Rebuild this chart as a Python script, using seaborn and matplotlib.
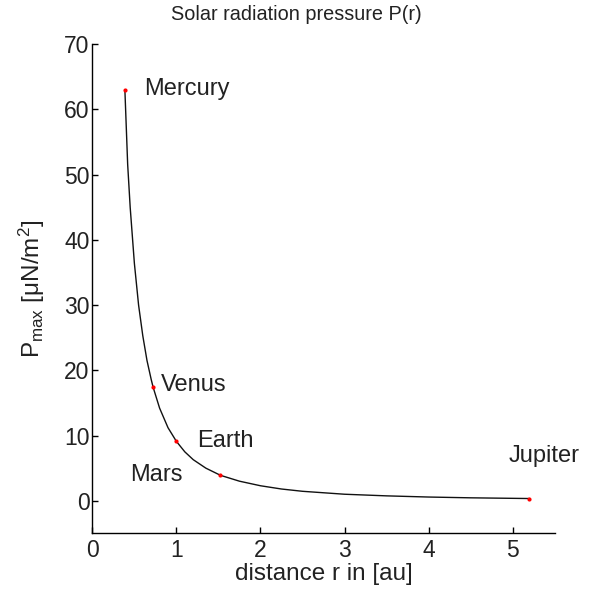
import seaborn as sns
import matplotlib.pyplot as plt
import pandas as pd

# curve P(r)
curve_r = [0.387, 0.42, 0.45, 0.5, 0.55, 0.6, 0.65, 0.7, 0.723, 0.8, 0.9, 1.0,
           1.1, 1.2, 1.35, 1.524, 1.75, 2.0, 2.25, 2.5, 3.0, 3.5, 4.0, 4.5, 5.2]
curve_p = [63.0, 51.6, 45.0, 36.4, 30.0, 25.3, 21.5, 18.6, 17.4, 14.2, 11.2, 9.1,
           7.5, 6.3, 5.0, 3.9, 3.0, 2.3, 1.8, 1.45, 1.0, 0.75, 0.57, 0.45, 0.34]

planets = ['Mercury', 'Venus', 'Earth', 'Mars', 'Jupiter']
planet_r = [0.387, 0.723, 1.0, 1.524, 5.2]
planet_p = [63.0, 17.4, 9.1, 3.9, 0.34]
label_x = [0.61, 0.81, 1.25, 0.45, 4.95]
label_y = [63.1, 17.7, 9.2, 4.0, 6.9]

curve_df = pd.DataFrame({'r': curve_r, 'P': curve_p})
planet_df = pd.DataFrame({'r': planet_r, 'P': planet_p, 'name': planets})

sns.set_style("ticks")
plt.rcParams['font.family'] = ['Liberation Sans', 'DejaVu Sans']
plt.rcParams['mathtext.fontset'] = 'custom'
plt.rcParams['mathtext.rm'] = 'Liberation Sans'
plt.rcParams['mathtext.it'] = 'Liberation Sans:italic'
plt.rcParams['xtick.direction'] = 'in'
plt.rcParams['ytick.direction'] = 'in'

fig = plt.figure(figsize=(5.92, 5.90), dpi=100)
ax = fig.add_axes([0.156, 0.096, 0.781, 0.829])

sns.lineplot(data=curve_df, x='r', y='P', color='#111111', lw=1, ax=ax, sort=False)
sns.scatterplot(data=planet_df, x='r', y='P', color='red', s=9, linewidth=0, ax=ax, zorder=3)

for name, x, y in zip(planets, label_x, label_y):
    ax.text(x, y, name, fontsize=17, ha='left', va='center', color='#222222')

ax.set_xlim(0, 5.5)
ax.set_ylim(-5, 70)
ax.set_xticks([0, 1, 2, 3, 4, 5])
ax.set_yticks([0, 10, 20, 30, 40, 50, 60, 70])
ax.tick_params(labelsize=16.5, length=4, width=1, colors='black', labelcolor='#222222')
ax.tick_params(axis='x', pad=4)
ax.tick_params(axis='y', pad=2)
fig.text(0.5, 0.976, 'Solar radiation pressure P(r)', fontsize=14.3, ha='center', va='center',
         color='#222222')
ax.set_xlabel('distance r in [au]', fontsize=17.5, labelpad=1, color='#222222')
ax.set_ylabel(r'P$_{\rm max}$ [μN/m$^2$]', fontsize=17.5, labelpad=12, color='#222222')
sns.despine(ax=ax)
for s in ['left', 'bottom']:
    ax.spines[s].set_color('black')
    ax.spines[s].set_linewidth(1)

plt.savefig('out.png', dpi=100)
